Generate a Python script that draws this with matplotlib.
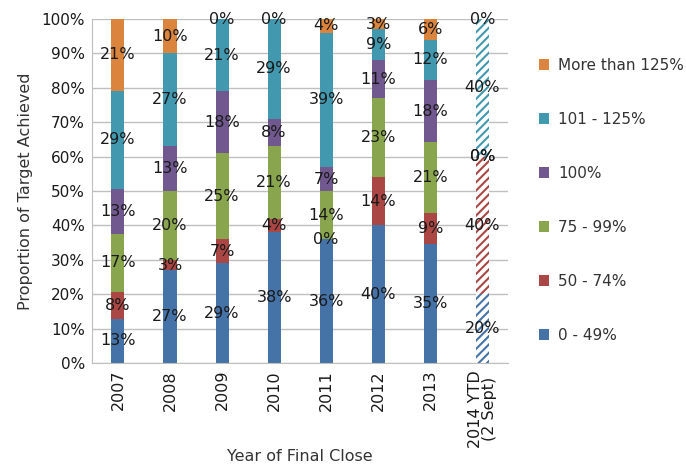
import matplotlib
matplotlib.use("Agg")
from matplotlib import pyplot as plt
from matplotlib.patches import Patch
import numpy as np

years = ["2007", "2008", "2009", "2010", "2011", "2012", "2013", "2014 YTD\n(2 Sept)"]
bands = ["0 - 49%", "50 - 74%", "75 - 99%", "100%", "101 - 125%", "More than 125%"]

band_0_49 = [13, 27, 29, 38, 36, 40, 35, 20]
band_50_74 = [8, 3, 7, 4, 0, 14, 9, 40]
band_75_99 = [17, 20, 25, 21, 14, 23, 21, 0]
band_100 = [13, 13, 18, 8, 7, 11, 18, 0]
band_101_125 = [29, 27, 21, 29, 39, 9, 12, 40]
band_over_125 = [21, 10, 0, 0, 4, 3, 6, 0]

colors = ["#4572A7", "#AA4643", "#89A54E", "#71588F", "#4198AF", "#DB843D"]

plt.rcParams["font.family"] = ["DejaVu Sans"]
plt.rcParams["hatch.linewidth"] = 1.5

series = np.array([band_0_49, band_50_74, band_75_99, band_100, band_101_125, band_over_125],
                  dtype=float)
# 100% stacked: labels are rounded, so bar heights are scaled to a full column
heights = series / series.sum(axis=0) * 100

fig = plt.figure(figsize=(6.86, 4.66), dpi=100)
ax = fig.add_axes([0.134, 0.221, 0.607, 0.738])

x = np.arange(len(years))
bottom = np.zeros(len(years))
for vals, h, col in zip(series, heights, colors):
    for i in range(len(years)):
        if i == len(years) - 1:
            ax.bar(x[i], h[i], 0.25, bottom=bottom[i], facecolor="white",
                   edgecolor=col, hatch="////", linewidth=0, zorder=2)
        else:
            ax.bar(x[i], h[i], 0.25, bottom=bottom[i], color=col,
                   linewidth=0, zorder=2)
        ax.text(x[i], bottom[i] + h[i] / 2, f"{int(vals[i])}%", ha="center",
                va="center", fontsize=11.5, color="#1a1a1a", zorder=3)
    bottom += h

ax.set_xlim(-0.5, len(years) - 0.5)
ax.set_ylim(0, 100)
ax.set_yticks(np.arange(0, 101, 10))
ax.set_yticklabels([f"{v}%" for v in range(0, 101, 10)], fontsize=11)
ax.set_xticks(x)
ax.set_xticklabels(years, rotation=90, fontsize=11.5, linespacing=0.95)
ax.tick_params(axis="both", length=0, pad=5, colors="#1a1a1a")
ax.yaxis.grid(True, color="#BFBFBF", linewidth=1, zorder=0)
ax.set_axisbelow(True)
for s in ["top", "right"]:
    ax.spines[s].set_visible(False)
for s in ["left", "bottom"]:
    ax.spines[s].set_color("#BFBFBF")

ax.set_ylabel("Proportion of Target Achieved", fontsize=11.5, color="#333333", labelpad=6)
ax.set_xlabel("Year of Final Close", fontsize=11.5, color="#333333", labelpad=1)

handles = [Patch(facecolor=c, edgecolor="none") for c in colors]
fig.legend(handles[::-1], bands[::-1], loc="upper left", bbox_to_anchor=(0.765, 0.905),
           frameon=False, fontsize=11, handlelength=0.7, handleheight=0.7,
           labelspacing=2.55, handletextpad=0.6, labelcolor="#333333")

fig.savefig("out.png", dpi=100)
